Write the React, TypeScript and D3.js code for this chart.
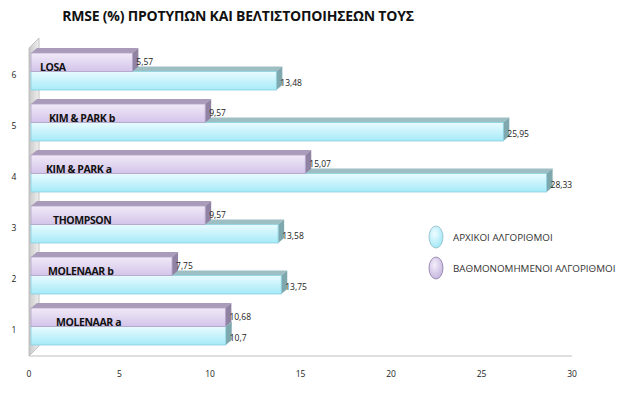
import React from "react";
import * as d3 from "d3";

const W = 619;
const H = 396;

const categories = ["1", "2", "3", "4", "5", "6"];
const models = ["MOLENAAR a", "MOLENAAR b", "THOMPSON", "KIM & PARK a", "KIM & PARK b", "LOSA"];
const original = [10.7, 13.75, 13.58, 28.33, 25.95, 13.48];
const calibrated = [10.68, 7.75, 9.57, 15.07, 9.57, 5.57];
const xTicks = [0, 5, 10, 15, 20, 25, 30];
const seriesNames = ["ΑΡΧΙΚΟΙ ΑΛΓΟΡΙΘΜΟΙ", "ΒΑΘΜΟΝΟΜΗΜΕΝΟΙ ΑΛΓΟΡΙΘΜΟΙ"];

// label offsets inside the purple bar (excel put them a bit randomly)
const labelDx = [25, 17, 22, 15, 18, 9];

const fmt = (v: number) => String(v).replace(".", ",");

const DX = 6;
const DY = -5;

const cyan = { light: "#e8fbff", dark: "#a6eaf8", stroke: "#86cfdf", top: "#9dbec3", side: "#7ea7ae" };
const purple = { light: "#f1eaf8", dark: "#d3c4e9", stroke: "#b3a3c8", top: "#a99bb9", side: "#8f82a2" };

const Bar3D = ({ x0, x1, y, h, c, id }: any) => {
  const w = Math.max(0, x1 - x0);
  return (
    <g>
      <polygon
        points={`${x0},${y} ${x0 + DX},${y + DY} ${x1 + DX},${y + DY} ${x1},${y}`}
        fill={c.top}
      />
      <polygon
        points={`${x1},${y} ${x1 + DX},${y + DY} ${x1 + DX},${y + h + DY} ${x1},${y + h}`}
        fill={c.side}
      />
      <rect x={x0} y={y} width={w} height={h} fill={`url(#${id})`} stroke={c.stroke} strokeWidth={0.8} />
    </g>
  );
};

export default function App() {
  const x = d3.scaleLinear().domain([0, 30]).range([31, 577]);
  const y = d3
    .scaleBand()
    .domain([...categories].reverse())
    .range([46, 352])
    .paddingInner(0.275)
    .paddingOuter(0.1375);
  const sub = d3.scaleBand().domain(["cal", "orig"]).range([0, y.bandwidth()]);

  const font = "'Open Sans', sans-serif";

  return (
    <svg width={W} height={H} style={{ position: "absolute", left: 0, top: 0, background: "#fff" }}>
      <defs>
        <linearGradient id="gCyan" x1="0" y1="0" x2="0" y2="1">
          <stop offset="0" stopColor={cyan.light} />
          <stop offset="1" stopColor={cyan.dark} />
        </linearGradient>
        <linearGradient id="gPurple" x1="0" y1="0" x2="0" y2="1">
          <stop offset="0" stopColor={purple.light} />
          <stop offset="1" stopColor={purple.dark} />
        </linearGradient>
        <linearGradient id="gWall" x1="0" y1="0" x2="1" y2="0">
          <stop offset="0" stopColor="#c8c8c8" />
          <stop offset="1" stopColor="#f0f0f0" />
        </linearGradient>
        <radialGradient id="lCyan" cx="0.4" cy="0.35" r="0.7">
          <stop offset="0" stopColor="#eefcff" />
          <stop offset="1" stopColor="#9fe6f6" />
        </radialGradient>
        <radialGradient id="lPurple" cx="0.4" cy="0.35" r="0.7">
          <stop offset="0" stopColor="#f3eefa" />
          <stop offset="1" stopColor="#c4b3dd" />
        </radialGradient>
      </defs>

      <text x={238} y={21} textAnchor="middle" fontFamily={font} fontWeight="bold" fontSize={14} fill="#111" letterSpacing={-0.2}>
        RMSE (%)  ΠΡΟΤΥΠΩΝ ΚΑΙ ΒΕΛΤΙΣΤΟΠΟΙΗΣΕΩΝ ΤΟΥΣ
      </text>

      {/* side wall */}
      <polygon points={`29,48 39,38 39,346 29,356`} fill="url(#gWall)" stroke="#b5b5b5" strokeWidth={0.8} />
      <line x1={29} y1={356} x2={x(30) - 5} y2={356} stroke="#c0c0c0" strokeWidth={1.2} />

      {categories.map((c, i) => {
        const y0 = y(c)!;
        const hh = sub.bandwidth();
        const yo = y0 + sub("orig")!;
        const yc = y0 + sub("cal")!;
        return (
          <g key={c}>
            <Bar3D x0={x(0)} x1={x(original[i])} y={yo} h={hh} c={cyan} id="gCyan" />
            <Bar3D x0={x(0)} x1={x(calibrated[i])} y={yc} h={hh} c={purple} id="gPurple" />
            <text x={x(0) + labelDx[i]} y={yc + hh - 1} fontFamily={font} fontWeight="bold" fontSize={10.5} fill="#111" letterSpacing={-0.4}>
              {models[i]}
            </text>
            <text x={x(calibrated[i]) + 4} y={yc + hh / 2 + 3} fontFamily={font} fontSize={8.5} fill="#222">
              {fmt(calibrated[i])}
            </text>
            <text x={x(original[i]) + 4} y={yo + hh / 2 + 5} fontFamily={font} fontSize={8.5} fill="#222">
              {fmt(original[i])}
            </text>
            <text x={14} y={y0 + y.bandwidth() / 2 + 6} textAnchor="middle" fontFamily={font} fontSize={8.5} fill="#222">
              {c}
            </text>
          </g>
        );
      })}

      {xTicks.map((t) => (
        <text key={t} x={x(t) - 2 - t * 0.1} y={377} textAnchor="middle" fontFamily={font} fontSize={8.5} fill="#222">
          {t}
        </text>
      ))}

      {/* legend */}
      {seriesNames.map((s, i) => (
        <g key={s} transform={`translate(436,${237 + i * 31})`}>
          <ellipse rx={7} ry={11} fill={i === 0 ? "url(#lCyan)" : "url(#lPurple)"} stroke={i === 0 ? "#8fb9c4" : "#8a7aa5"} strokeWidth={0.8} />
          <text x={17} y={3.5} fontFamily={font} fontSize={9.8} fill="#333">
            {s}
          </text>
        </g>
      ))}
    </svg>
  );
}
